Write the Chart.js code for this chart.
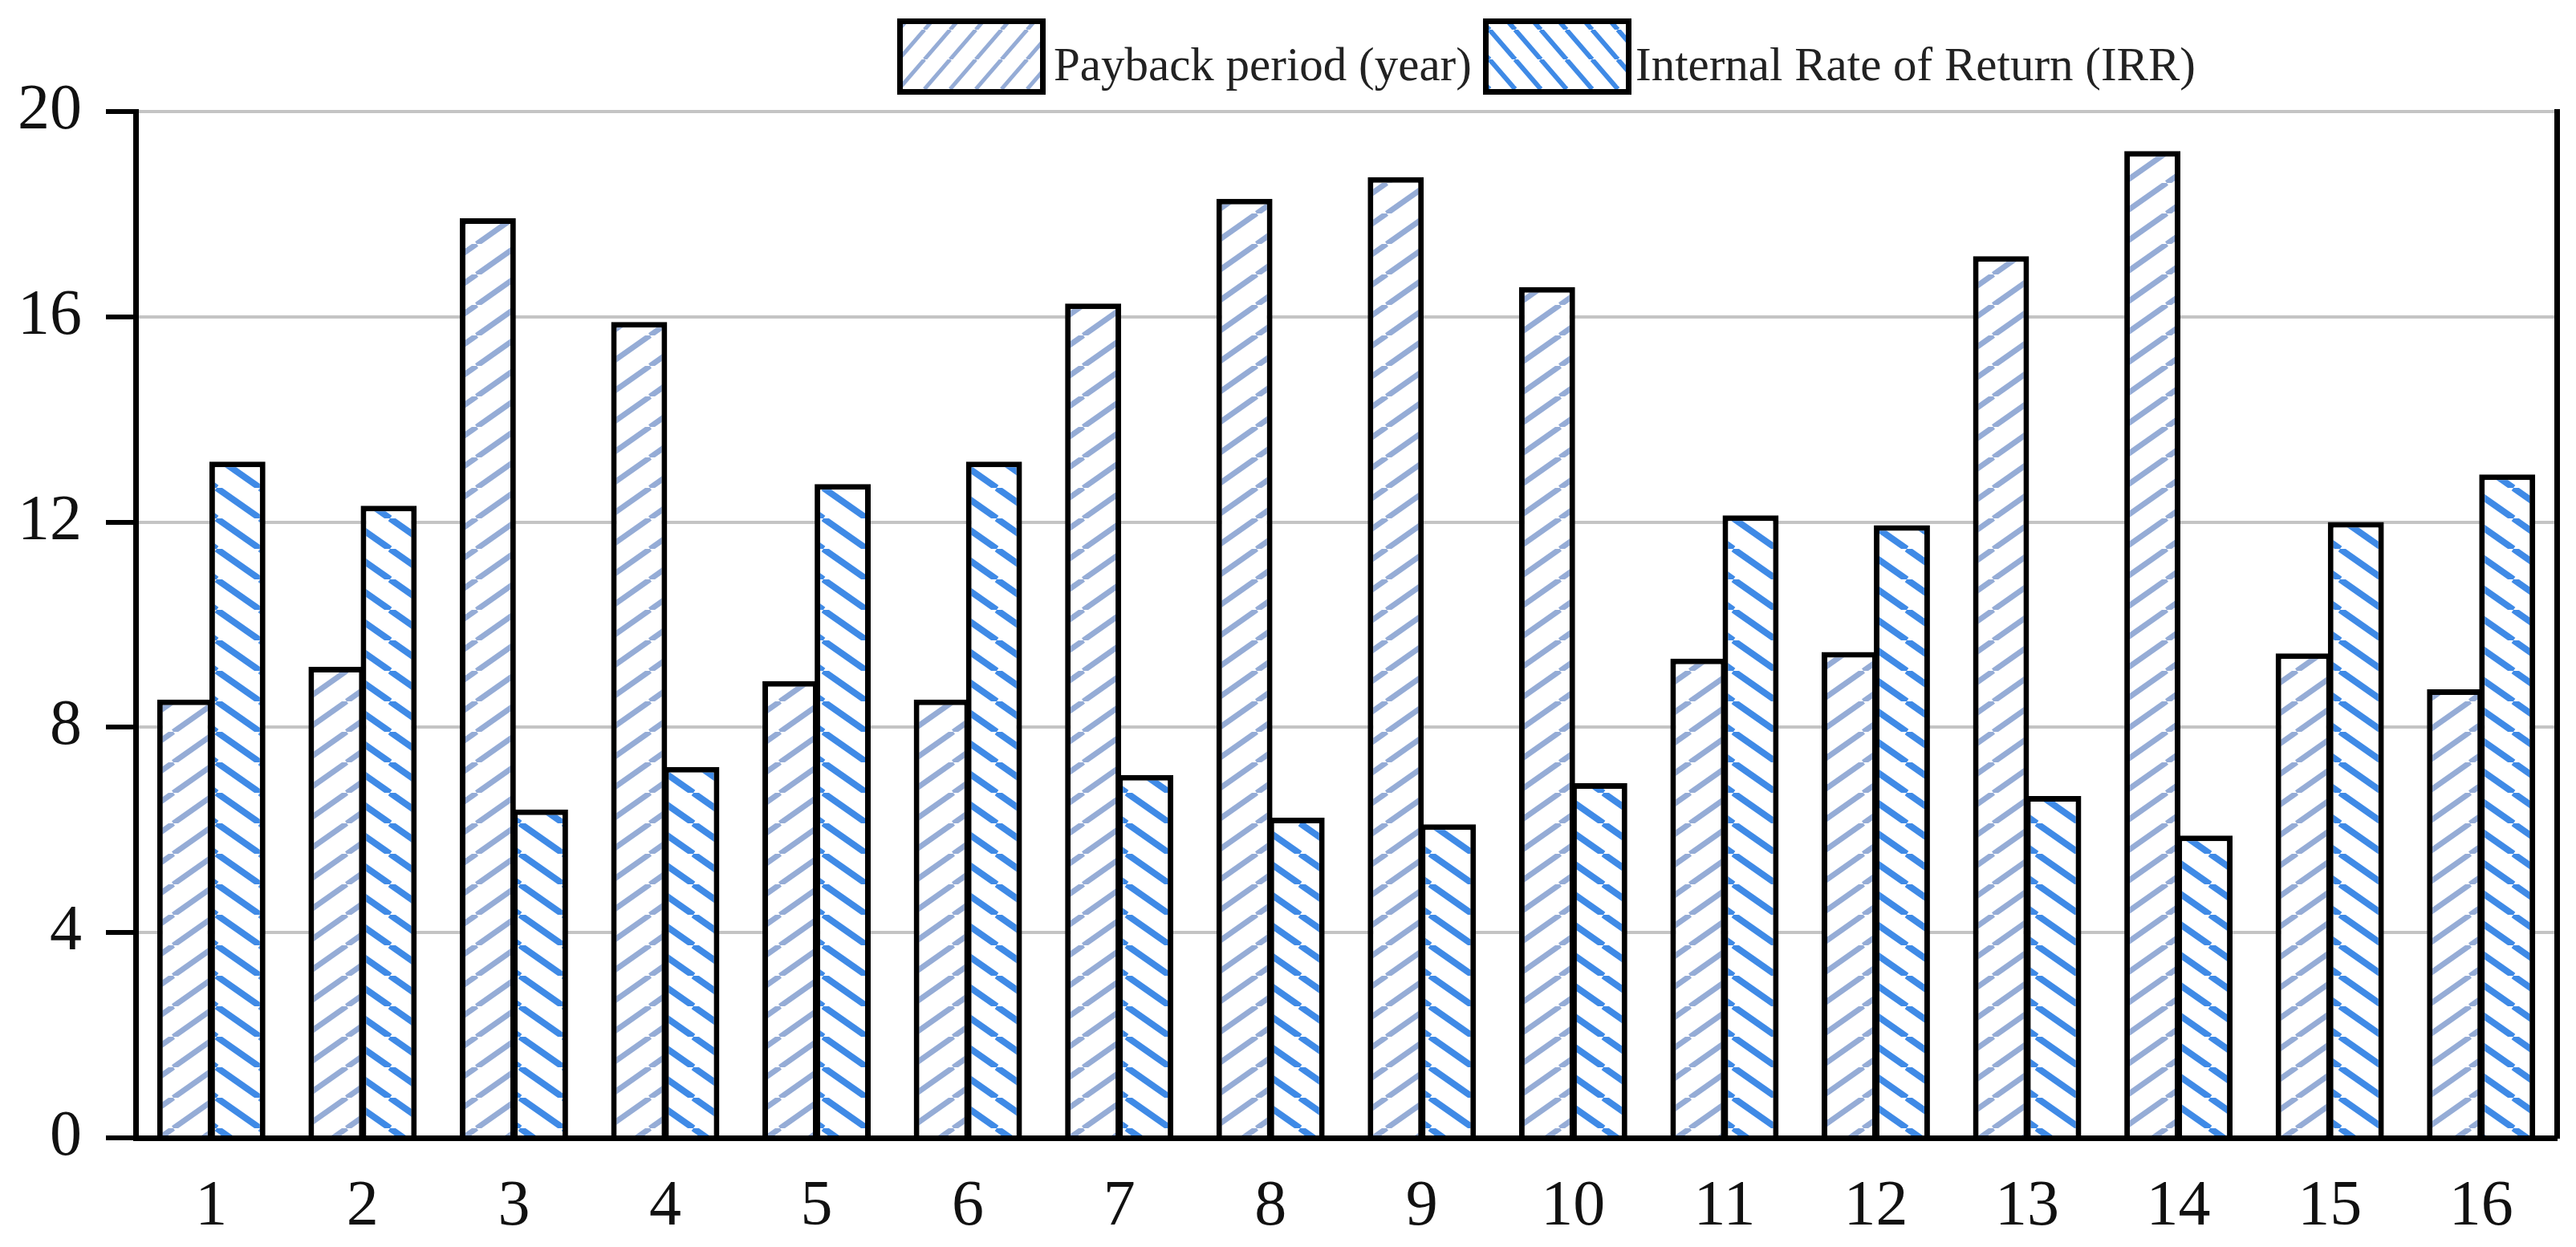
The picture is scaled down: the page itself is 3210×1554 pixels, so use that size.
<!DOCTYPE html>
<html>
<head>
<meta charset="utf-8">
<script src="https://cdn.jsdelivr.net/npm/chart.js@4.4.1/dist/chart.umd.min.js"></script>
<style>
  html, body { margin: 0; padding: 0; background: #fff; }
  #contenedor { width: 3210px; height: 1554px; position: relative; }
</style>
</head>
<body>
<div id="contenedor"><canvas id="grafico"></canvas></div>
<script>
// Datos
const categorias = ['1', '2', '3', '4', '5', '6', '7', '8', '9', '10', '11', '12', '13', '14', '15', '16'];
const periodoRetorno = [8.54, 9.18, 17.92, 15.9, 8.9, 8.54, 16.26, 18.3, 18.72, 16.58, 9.34, 9.47, 17.18, 19.23, 9.44, 8.74];
const tasaInterna = [13.18, 12.32, 6.4, 7.23, 12.74, 13.18, 7.07, 6.24, 6.11, 6.91, 12.13, 11.94, 6.66, 5.89, 12.0, 12.93];
const etiquetasSerie = ['Payback period (year)', 'Internal Rate of Return (IRR)'];
const ejeY = { min: 0, max: 20, paso: 4 };

const FUENTE = "'Liberation Serif', 'Times New Roman', serif";

// Trama de rayas diagonales sobre fondo blanco
function crearTrama(color, subida, grosor, w, h) {
  const c = document.createElement('canvas');
  c.width = w;
  c.height = h;
  const g = c.getContext('2d');
  g.fillStyle = '#fff';
  g.fillRect(0, 0, w, h);
  g.strokeStyle = color;
  g.lineWidth = grosor;
  [-w, 0, w].forEach(dx => {
    g.beginPath();
    if (subida) {
      g.moveTo(dx, h);
      g.lineTo(dx + w, 0);
    } else {
      g.moveTo(dx, 0);
      g.lineTo(dx + w, h);
    }
    g.stroke();
  });
  return g.createPattern(c, 'repeat');
}

const colorRetorno = '#95acd6';
const colorTasa = '#3f8ae6';
const tramaRetorno = crearTrama(colorRetorno, true, 7, 54, 38);
const tramaTasa = crearTrama(colorTasa, false, 8, 54, 38);
const tramasLeyenda = [
  crearTrama(colorRetorno, true, 5, 32, 37),
  crearTrama(colorTasa, false, 6, 32, 37)
];

// Leyenda dibujada a mano (va desplazada a la derecha en el original)
const leyendaManual = {
  id: 'leyendaManual',
  afterDraw(chart) {
    const ctx = chart.ctx;
    const cajas = [
      { x: 1118, texto: 1313 },
      { x: 1848, texto: 2038 }
    ];
    ctx.save();
    chart.data.datasets.forEach((ds, i) => {
      const c = cajas[i];
      ctx.fillStyle = tramasLeyenda[i];
      ctx.fillRect(c.x, 23, 185, 95);
      ctx.lineWidth = 7;
      ctx.strokeStyle = '#000';
      ctx.strokeRect(c.x + 3.5, 26.5, 178, 88);
      ctx.fillStyle = '#222';
      ctx.font = '59px ' + FUENTE;
      ctx.textBaseline = 'alphabetic';
      ctx.textAlign = 'left';
      ctx.fillText(ds.label, c.texto, 100);
    });
    ctx.restore();
  }
};

const ctx = document.getElementById('grafico').getContext('2d');

new Chart(ctx, {
  type: 'bar',
  data: {
    labels: categorias,
    datasets: [
      {
        label: etiquetasSerie[0],
        data: periodoRetorno,
        backgroundColor: tramaRetorno,
        borderColor: '#000',
        borderWidth: 7,
        categoryPercentage: 0.69,
        barPercentage: 1.074
      },
      {
        label: etiquetasSerie[1],
        data: tasaInterna,
        backgroundColor: tramaTasa,
        borderColor: '#000',
        borderWidth: 7,
        categoryPercentage: 0.69,
        barPercentage: 1.074
      }
    ]
  },
  options: {
    responsive: true,
    maintainAspectRatio: false,
    animation: false,
    devicePixelRatio: 1,
    layout: {
      padding: { left: -8, right: 24, top: 139, bottom: -38 }
    },
    scales: {
      x: {
        grid: { display: false, drawTicks: false },
        border: { display: true, color: '#000', width: 7, z: 1 },
        ticks: {
          color: '#111',
          font: { family: FUENTE, size: 80 },
          padding: 39
        }
      },
      y: {
        min: ejeY.min,
        max: ejeY.max,
        ticks: {
          stepSize: ejeY.paso,
          color: '#111',
          font: { family: FUENTE, size: 80 },
          padding: 30
        },
        grid: {
          color: '#c4c4c4',
          lineWidth: 4,
          tickColor: '#000',
          tickWidth: 6,
          tickLength: 37
        },
        border: { color: '#000', width: 7, z: 1 }
      },
      y2: {
        position: 'right',
        min: ejeY.min,
        max: ejeY.max,
        ticks: { display: false },
        grid: { display: false, drawTicks: false },
        border: { color: '#000', width: 7, z: 1 }
      }
    },
    plugins: {
      legend: { display: false },
      tooltip: { enabled: false }
    }
  },
  plugins: [leyendaManual]
});
</script>
</body>
</html>
